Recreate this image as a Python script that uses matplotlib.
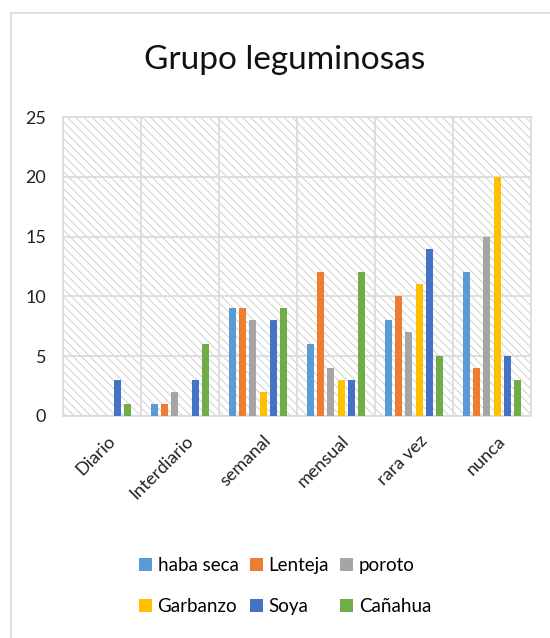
import numpy as np
import matplotlib.pyplot as plt
import matplotlib.transforms as mtransforms
from matplotlib.patches import Rectangle
from matplotlib.lines import Line2D

plt.rcParams['font.family'] = ['Lato', 'DejaVu Sans']

# datos
categorias = ["Diario", "Interdiario", "semanal", "mensual", "rara vez", "nunca"]
haba_seca = [0, 1, 9, 6, 8, 12]
lenteja = [0, 1, 9, 12, 10, 4]
poroto = [0, 2, 8, 4, 7, 15]
garbanzo = [0, 0, 2, 3, 11, 20]
soya = [3, 3, 8, 3, 14, 5]
canahua = [1, 6, 9, 12, 5, 3]

series = [
    ("haba seca", haba_seca, "#5B9BD5"),
    ("Lenteja", lenteja, "#ED7D31"),
    ("poroto", poroto, "#A5A5A5"),
    ("Garbanzo", garbanzo, "#FFC000"),
    ("Soya", soya, "#4472C4"),
    ("Cañahua", canahua, "#70AD47"),
]

fig = plt.figure(figsize=(5.5, 6.38), dpi=100)
ax = fig.add_axes([63 / 550, 1 - 416 / 638, 468 / 550, 299 / 638])

# borde exterior (solo izquierda y arriba visibles)
fig.add_artist(Line2D([11 / 550, 11 / 550], [0, 1 - 13 / 638], color="#d9d9d9", lw=1.2))
fig.add_artist(Line2D([11 / 550, 1], [1 - 13 / 638, 1 - 13 / 638], color="#d9d9d9", lw=1.2))

# fondo rayado
plt.rcParams['hatch.linewidth'] = 0.7
ax.add_patch(Rectangle((0, 0), 1, 1, transform=ax.transAxes, facecolor="white",
                       edgecolor="#d0d0d0", hatch="\\\\\\\\", lw=0, zorder=0))

x = np.arange(len(categorias))
paso = 0.13
ancho = 0.09
handles = {}
for i, (nombre, vals, color) in enumerate(series):
    b = ax.bar(x + (i - 2.5) * paso, vals, width=ancho, color=color, zorder=3, label=nombre)
    handles[nombre] = b

ax.set_xlim(-0.5, len(categorias) - 0.5)
ax.set_ylim(0, 25)
ax.set_yticks(range(0, 26, 5))
ax.set_xticks(x)
ax.set_xticklabels(categorias, rotation=45, ha="right", rotation_mode="anchor")
ax.set_xticks(np.arange(0.5, len(categorias) - 0.5, 1), minor=True)
ax.tick_params(axis="both", which="both", length=0, labelsize=13, colors="#222222")
ax.tick_params(axis="x", pad=12)
ax.tick_params(axis="y", pad=12)
ax.grid(True, which="major", axis="y", color="#d9d9d9", lw=1.2, zorder=1)
ax.grid(True, which="minor", axis="x", color="#d9d9d9", lw=1.2, zorder=1)
for s in ax.spines.values():
    s.set_color("#d9d9d9")
    s.set_linewidth(1.2)
desplaz = mtransforms.ScaledTranslation(5 / 100, 0, fig.dpi_scale_trans)
for lbl in ax.get_xticklabels():
    lbl.set_transform(lbl.get_transform() + desplaz)

fig.text(285 / 550, 1 - 60 / 638, "Grupo leguminosas", ha="center", va="center",
         fontsize=24, color="#111111")

orden = ["haba seca", "Garbanzo", "Lenteja", "Soya", "poroto", "Cañahua"]
fig.legend([handles[n] for n in orden], orden, ncol=3, loc="center",
           bbox_to_anchor=(285 / 550, 1 - 586 / 638), frameon=False, fontsize=13.5,
           handlelength=0.7, handleheight=0.7, handletextpad=0.3,
           columnspacing=0.6, labelspacing=1.3)

fig.savefig("out.png", dpi=100)
